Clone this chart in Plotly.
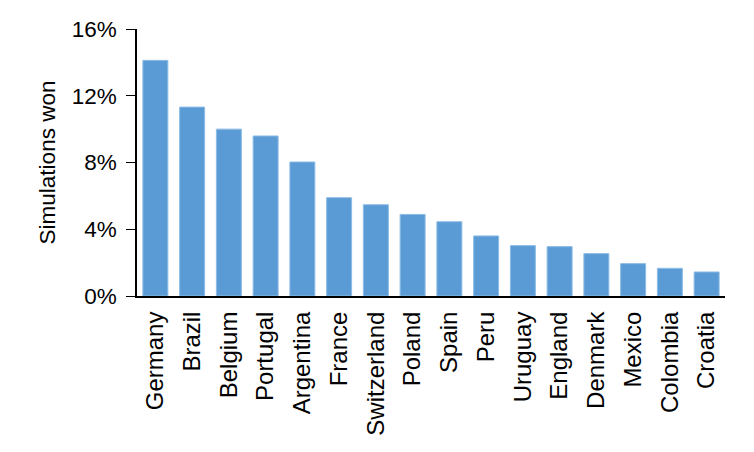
#!/usr/bin/env python3
"""
Share of simulations won per country - bar chart
"""

import plotly.graph_objects as go

# Data
countries = ['Germany', 'Brazil', 'Belgium', 'Portugal', 'Argentina', 'France',
             'Switzerland', 'Poland', 'Spain', 'Peru', 'Uruguay', 'England',
             'Denmark', 'Mexico', 'Colombia', 'Croatia']
won_pct = [14.12, 11.32, 10.0, 9.59, 8.03, 5.89, 5.47, 4.89, 4.45, 3.6,
           3.02, 2.96, 2.54, 1.94, 1.66, 1.44]
y_ticks = [0, 4, 8, 12, 16]

FONT = "Liberation Sans, Arial, sans-serif"

fig = go.Figure()

fig.add_trace(go.Bar(
    x=countries,
    y=won_pct,
    marker=dict(color='#5B9BD5', line=dict(color='#8DBCE6', width=1)),
    hovertemplate='%{x}: %{y:.1f}%<extra></extra>'
))

# page has an 8px body margin, so the margins are offset by that
fig.update_layout(
    width=754,
    height=452,
    margin=dict(l=129, r=37, t=21, b=164, autoexpand=False),
    plot_bgcolor='white',
    paper_bgcolor='white',
    bargap=0.32,
    showlegend=False,
    font=dict(family=FONT, size=22, color='#000000'),
)

fig.update_xaxes(
    showline=True,
    linecolor='#000000',
    linewidth=2,
    ticks='',
    tickangle=-90,
    tickfont=dict(size=24),
    ticklabelstandoff=4,
    showgrid=False,
    automargin=False,
)

fig.update_yaxes(
    range=[0, 16],
    tickvals=y_ticks,
    ticktext=[f'{v}%' for v in y_ticks],
    showline=True,
    linecolor='#000000',
    linewidth=1.5,
    ticks='outside',
    ticklen=9,
    tickcolor='#000000',
    tickfont=dict(size=22.5),
    ticklabelstandoff=5,
    showgrid=False,
    zeroline=False,
    automargin=False,
    title=dict(text='Simulations won', font=dict(size=22.5), standoff=10),
)

fig.write_html("out.html")
